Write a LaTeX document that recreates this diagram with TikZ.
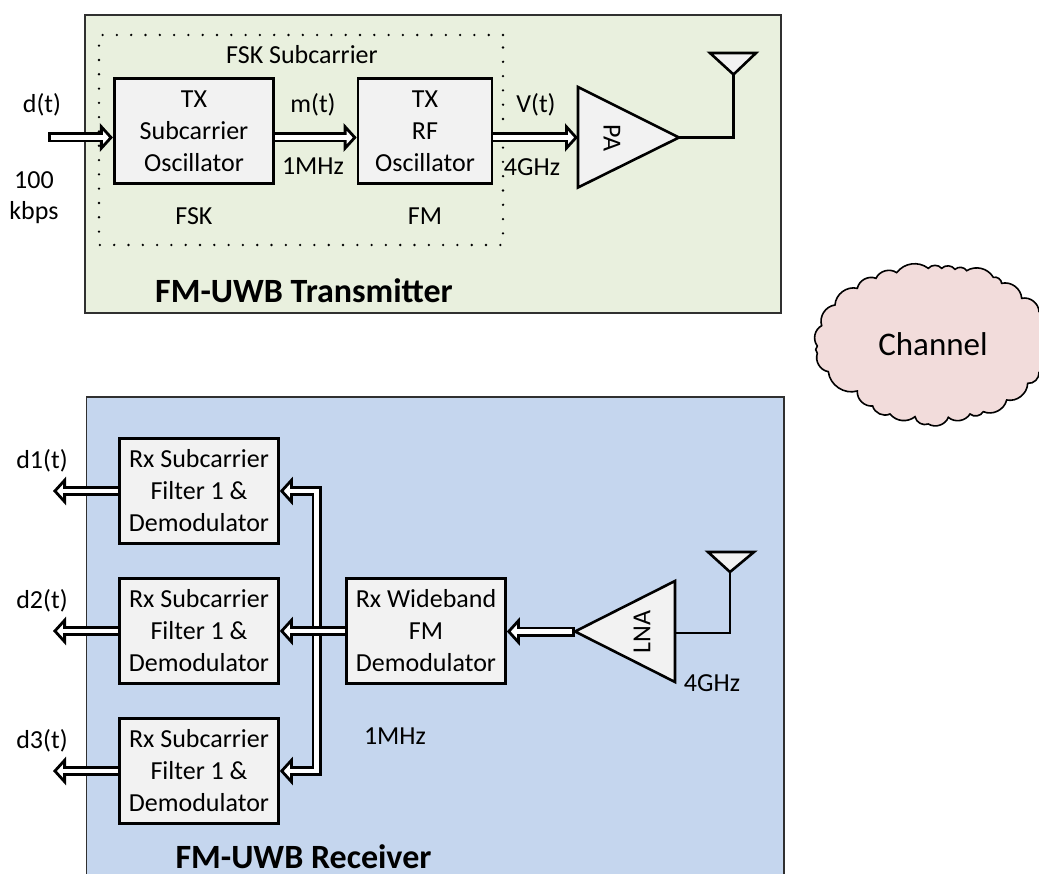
\documentclass[tikz,border=0pt]{standalone}
\usepackage{fontspec}
\setmainfont{Carlito}
\usetikzlibrary{arrows.meta}
\definecolor{txbg}{HTML}{E9F0DE}
\definecolor{rxbg}{HTML}{C5D6EE}
\definecolor{boxbg}{HTML}{F2F2F2}
\definecolor{cloudbg}{HTML}{F2DCDB}
\definecolor{framec}{HTML}{303030}
\tikzset{
  panel/.style={draw=framec,line width=1.5pt},
  blockbox/.style={draw=black,fill=boxbg,line width=2.6pt,minimum width=159pt,minimum height=105pt,inner sep=0pt,align=center,font=\fontsize{26}{32}\selectfont},
  tag/.style={inner sep=0pt,align=center,font=\fontsize{26}{31}\selectfont},
  headline/.style={inner sep=0pt,anchor=base,font=\fontsize{34}{36}\selectfont\bfseries},
  amp/.style={draw=black,fill=boxbg,line width=2.6pt,line join=miter},
  wire/.style={draw=black,line width=2.6pt,line join=miter},
  dots/.style={draw=black,line width=2.6pt,line cap=round,dash pattern=on 0pt off 14.3pt},
  fwd/.style={draw=black,line width=10pt,line join=miter,-{Triangle[length=13pt,width=28pt,line width=2.8pt,fill=white,color=black]},
    postaction={draw=white,line width=4.6pt,line join=miter,-,shorten >=10pt}},
  closedfwd/.style={draw=black,line width=10pt,-{Triangle[length=13pt,width=28pt,line width=2.8pt,fill=white,color=black]},
    postaction={draw=white,line width=4.6pt,-,shorten >=10pt,shorten <=2.7pt}},
  bothway/.style={draw=black,line width=10pt,line join=miter,{Triangle[length=13pt,width=28pt,line width=2.8pt,fill=white,color=black]}-{Triangle[length=13pt,width=28pt,line width=2.8pt,fill=white,color=black]},
    postaction={draw=white,line width=4.6pt,line join=miter,-,shorten >=10pt,shorten <=10pt}},
}
\begin{document}
\begin{tikzpicture}[x=1pt,y=-1pt]
\useasboundingbox (0,0) rectangle (1039,874);
\clip (0,0) rectangle (1039,874);

% panels
\path[panel,fill=txbg] (85,15) rectangle (781,313);
\path[panel,fill=rxbg] (86.5,397) rectangle (784,890);

% cloud
\begin{scope}[shift={(800,260)},scale=1/3]
\draw[draw=black,fill=cloudbg,line width=1.6pt]
  (65,197) to[bend right=50] (52,258) to[bend right=50] (52,280) to[bend right=50] (85,335)
  to[bend right=50] (172,393) to[bend right=50] (218,438) to[bend right=50] (270,462)
  to[bend right=45] (345,470) to[bend right=50] (385,492) to[bend right=50] (445,472)
  to[bend right=50] (510,462) to[bend right=50] (550,455) to[bend right=50] (620,420)
  to[bend right=50] (683,370) to[bend right=50] (717,337) -- (760,337) -- (760,155) -- (717,155)
  to[bend right=50] (665,115) to[bend right=50] (605,70) to[bend right=50] (580,52)
  to[bend right=45] (500,32) to[bend right=50] (465,28) to[bend right=50] (425,25)
  to[bend right=50] (385,25) to[bend right=45] (290,38) to[bend right=50] (228,55)
  to[bend right=50] (172,85) to[bend right=50] (105,135) to[bend right=50] (65,197) -- cycle;
\end{scope}
\node[inner sep=0pt,font=\fontsize{33}{36}\selectfont] (channel) at (933,344) {Channel};

% transmitter blocks
\node[blockbox,minimum width=159.5pt] (txsub) at (194,131) {TX\\Subcarrier\\Oscillator};
\node[blockbox,minimum width=134pt] (txrf) at (425,131) {TX\\RF\\Oscillator};
\coordinate (paA) at (578,87);
\coordinate (paB) at (578,187.5);
\coordinate (paC) at (679,137.5);
\path[amp] (paA) -- (paC) -- (paB) -- cycle;
\node[tag,rotate=-90] (pa) at (612,138) {PA};
\coordinate (txAntA) at (710,53);
\coordinate (txAntB) at (756,53);
\coordinate (txAntC) at (733.5,74.5);
\path[amp] (txAntA) -- (txAntB) -- (txAntC) -- cycle;
\draw[wire] (paC) -| (txAntC);

% transmitter connectors (the dots pass over V(t), under d(t))
\coordinate (dIn) at (48,137.5);
\draw[fwd] (txsub.east |- dIn) -- (txrf.west |- dIn);
\draw[fwd] (txrf.east |- dIn) -- (paA |- dIn);
\draw[dots] (503,35) -- (99,35) -- (99,245) -- (503,245) -- cycle;
\draw[closedfwd] (dIn) -- (dIn -| txsub.west);

% transmitter labels
\node[tag] (ldt) at (42,105) {d(t)};
\node[tag] (lrate) at (34,198) {100\\kbps};
\node[tag] (lsub) at (302,55) {FSK Subcarrier};
\node[tag] (lmt) at (313,105) {m(t)};
\node[tag] (l1a) at (313,166) {1MHz};
\node[tag] (lfsk) at (194,216) {FSK};
\node[tag] (lfm) at (425,216) {FM};
\node[tag] (lvt) at (536,105) {V(t)};
\node[tag] (l4a) at (532,167) {4GHz};
\node[headline] (txtitle) at (304,303) {FM-UWB Transmitter};

% receiver blocks
\node[blockbox] (rx1) at (199,491) {Rx Subcarrier\\Filter 1 \&\\Demodulator};
\node[blockbox] (rx2) at (199,631) {Rx Subcarrier\\Filter 1 \&\\Demodulator};
\node[blockbox] (rx3) at (199,771) {Rx Subcarrier\\Filter 1 \&\\Demodulator};
\node[blockbox] (wide) at (426,631) {Rx Wideband\\FM\\Demodulator};
\coordinate (lnaA) at (675,581);
\coordinate (lnaB) at (675,682);
\coordinate (lnaC) at (575,631.5);
\path[amp] (lnaA) -- (lnaC) -- (lnaB) -- cycle;
\node[tag,rotate=90] (lna) at (642,632) {LNA};
\coordinate (rxAntA) at (708,552);
\coordinate (rxAntB) at (754,552);
\coordinate (rxAntC) at (730,572);
\path[amp] (rxAntA) -- (rxAntB) -- (rxAntC) -- cycle;
\draw[wire] (lnaA |- 0,633) -| (rxAntC);

% receiver connectors
\coordinate (out1) at (53,491);
\coordinate (out2) at (53,631);
\coordinate (out3) at (53,771);
\coordinate (busX) at (316.5,631);
\draw[fwd] (rx1.west) -- (out1);
\draw[fwd] (rx2.west) -- (out2);
\draw[fwd] (rx3.west) -- (out3);
\draw[bothway] (rx1.east) -- (rx1.east -| busX) -- (rx3.east -| busX) -- (rx3.east);
\draw[fwd] (wide.west) -- (rx2.east);
\draw[closedfwd] (lnaC) -- (wide.east |- lnaC);

% receiver labels
\node[tag] (ld1) at (42,461) {d1(t)};
\node[tag] (ld2) at (42,601) {d2(t)};
\node[tag] (ld3) at (42,741) {d3(t)};
\node[tag] (l1b) at (395,736) {1MHz};
\node[tag] (l4b) at (712,683) {4GHz};
\node[headline] (rxtitle) at (303.5,868) {FM-UWB Receiver};
\end{tikzpicture}
\end{document}
